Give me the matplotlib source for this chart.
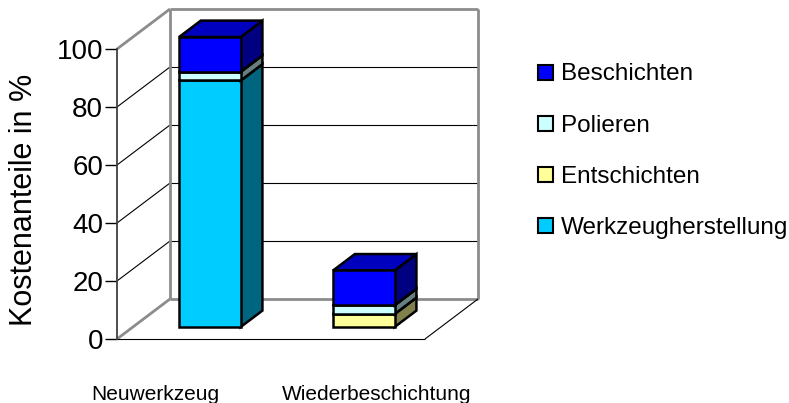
import matplotlib
matplotlib.use('Agg')
import matplotlib.pyplot as plt
from matplotlib.patches import Polygon, Rectangle

plt.rcParams['font.family'] = ['Liberation Sans', 'DejaVu Sans']

# Daten
kategorien = ['Neuwerkzeug', 'Wiederbeschichtung']
serien = ['Werkzeugherstellung', 'Entschichten', 'Polieren', 'Beschichten']
werkzeugherstellung = [85, 0]
entschichten = [0, 4.5]
polieren = [3, 3]
beschichten = [12, 12]
y_ticks = [0, 20, 40, 60, 80, 100]

farben = {
    'Werkzeugherstellung': '#00CCFF',
    'Entschichten': '#FFFF99',
    'Polieren': '#CCFFFF',
    'Beschichten': '#0000FF',
}

W, H = 789, 403
fig = plt.figure(figsize=(W / 100, H / 100), dpi=100)
ax = fig.add_axes([117 / W, 64 / H, 308 / W, 290 / H])
ax.set_xlim(-0.5, 1.5)
ax.set_ylim(0, 100)
ax.set_facecolor('none')

# schraege Projektion (Tiefe d von 0 bis 1)
KX = 53 / 154
KV = 40 / 2.9


def proj(x, v, d):
    return (x + d * KX, v + d * KV)


def flaeche(ecken, farbe, ec='black', lw=1.8, z=3):
    pts = [proj(*e) for e in ecken]
    ax.add_patch(Polygon(pts, closed=True, facecolor=farbe, edgecolor=ec, lw=lw,
                         joinstyle='miter', clip_on=False, zorder=z))


def linie(a, b, farbe, lw, z=1.5):
    p, q = proj(*a), proj(*b)
    ax.plot([p[0], q[0]], [p[1], q[1]], color=farbe, lw=lw, clip_on=False,
            zorder=z, solid_capstyle='butt')


def dunkler(hexfarbe, f):
    r, g, b = matplotlib.colors.to_rgb(hexfarbe)
    return (r * f, g * f, b * f)


x0, x1 = -0.5, 1.5
# Waende und Boden
flaeche([(x0, 0, 0), (x0, 0, 1), (x0, 100, 1), (x0, 100, 0)], 'white', ec='none', z=1)
flaeche([(x0, 0, 1), (x1, 0, 1), (x1, 100, 1), (x0, 100, 1)], 'white', ec='none', z=1)
flaeche([(x0, 0, 0), (x1, 0, 0), (x1, 0, 1), (x0, 0, 1)], 'white', ec='none', z=1)

# Gitterlinien
for t in y_ticks[1:-1]:
    linie((x0, t, 0), (x0, t, 1), 'black', 0.8)
    linie((x0, t, 1), (x1, t, 1), 'black', 0.8)

grau = '#8C8C8C'
linie((x0, 0, 0), (x0, 0, 1), grau, 2.0)
linie((x0, 100, 0), (x0, 100, 1), grau, 2.0)
linie((x0, 0, 1), (x1, 0, 1), grau, 2.0)
linie((x0, 100, 1), (x1, 100, 1), grau, 2.0)
linie((x0, 0, 1), (x0, 100, 1), grau, 2.0)
linie((x1, 0, 1), (x1, 100, 1), grau, 2.0)
linie((x0, 0, 0), (x1, 0, 0), 'black', 0.8)
linie((x1, 0, 0), (x1, 0, 1), 'black', 0.8)

# Saeulen
B = 0.4
D0, D1 = 0.3, 0.71
werte = [werkzeugherstellung, entschichten, polieren, beschichten]
for i, kat in enumerate(kategorien):
    unten = 0
    for name, reihe in zip(serien, werte):
        h = reihe[i]
        if h <= 0:
            continue
        oben = unten + h
        a, b = i - B / 2, i + B / 2
        c = farben[name]
        flaeche([(b, unten, D0), (b, unten, D1), (b, oben, D1), (b, oben, D0)], dunkler(c, 0.5))
        flaeche([(a, oben, D0), (b, oben, D0), (b, oben, D1), (a, oben, D1)], dunkler(c, 0.75))
        flaeche([(a, unten, D0), (b, unten, D0), (b, oben, D0), (a, oben, D0)], c)
        unten = oben

# Achse
for s in ['top', 'right', 'bottom']:
    ax.spines[s].set_visible(False)
ax.spines['left'].set_color('#404040')
ax.spines['left'].set_linewidth(1.3)
ax.set_xticks([])
ax.set_yticks(y_ticks)
ax.tick_params(axis='y', length=9, width=1, pad=1, labelsize=20, direction='out')

fig.text(24 / W, 1 - 200 / H, 'Kostenanteile in %', rotation=90, fontsize=22,
         ha='center', va='center')

# Kategorienbeschriftung
for kat, xp in zip(kategorien, [155, 377]):
    fig.text(xp / W, 1 - 400 / H, kat, fontsize=15, ha='center', va='baseline')

# Legende
for k, name in enumerate(serien[::-1]):
    yc = 72 + k * 51.3
    fig.patches.append(Rectangle((538 / W, 1 - (yc + 7.5) / H), 15 / W, 15 / H,
                                 facecolor=farben[name], edgecolor='black', lw=1.5,
                                 transform=fig.transFigure, figure=fig))
    fig.text(561 / W, 1 - (yc + 8.5) / H, name, fontsize=17.5, ha='left', va='baseline')

plt.savefig('out.png', dpi=100)
